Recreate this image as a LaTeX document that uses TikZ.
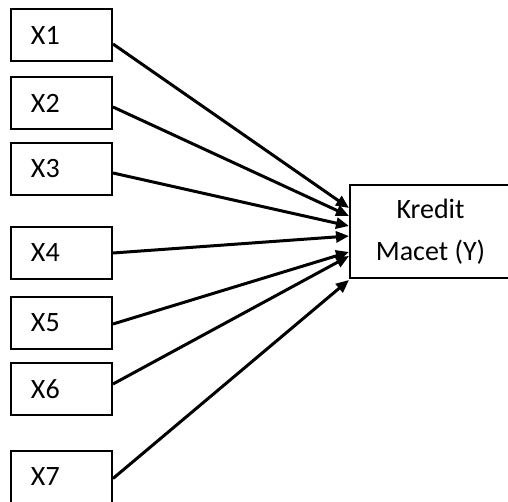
\documentclass[tikz,border=0pt]{standalone}
\usepackage{fontspec}
\setmainfont{Carlito}
\usetikzlibrary{arrows.meta}

\begin{document}
\begin{tikzpicture}[x=0.5pt,y=-0.5pt,
  var/.style={draw,line width=1pt,anchor=north west,minimum width=50.5pt,
    minimum height=26pt,text width=30.5pt,inner xsep=10pt,align=left,
    font=\fontsize{14}{17}\selectfont},
  dep/.style={draw,line width=1pt,anchor=north west,minimum width=80.5pt,
    minimum height=46.5pt,align=center,font=\fontsize{14}{21}\selectfont},
  link/.style={line width=1.5pt,-{Triangle[length=6.5pt,width=5.5pt]}}]
\useasboundingbox (0,0) rectangle (508,502);
\foreach \i/\y in {1/8,2/76,3/142,4/226,5/296,6/362,7/450}
  \node[var] (x\i) at (10,\y) {X\i};
\node[dep] (y) at (349,184) {Kredit\\Macet (Y)};
\foreach \i/\a/\b in {1/-4.5/11.75,2/-2/7.75,3/-2/2.75,4/0/-2.25,
                      5/-0.5/-10.25,6/2.5/-12.25,7/-0.75/-24.25}
  \draw[link] ([yshift=\a pt]x\i.east) -- ([yshift=\b pt]y.west);
\end{tikzpicture}
\end{document}
